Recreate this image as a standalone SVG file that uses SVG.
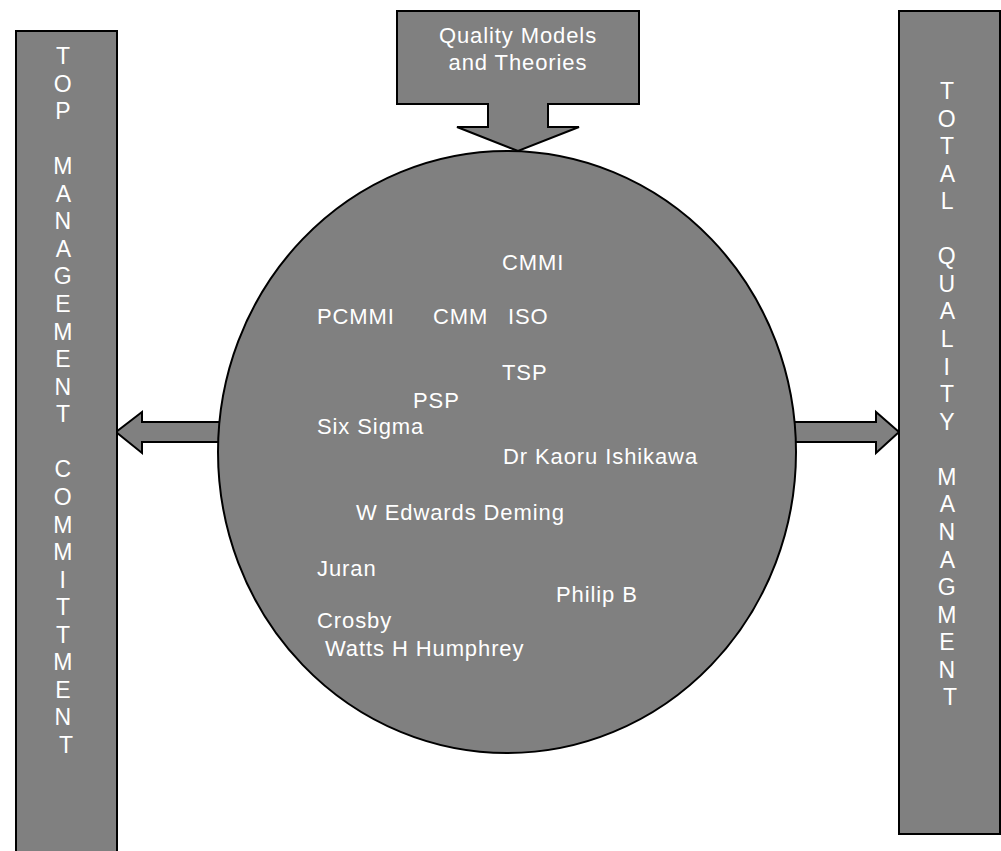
<svg xmlns="http://www.w3.org/2000/svg" width="1001" height="851" viewBox="0 0 1001 851">
<style>
.shape{fill:#808080;stroke:#000;stroke-width:2}
.t{fill:#fff;font-family:"Liberation Sans",Arial,sans-serif;font-size:22px;letter-spacing:0.9px}
.v{fill:#fff;font-family:"Liberation Sans",Arial,sans-serif;font-size:23px;text-anchor:middle}
</style>
<rect width="1001" height="851" fill="#fff"/>
<g id="connectors">
<path class="shape" d="M226,422 H142 V412 L116,432 L142,453 V442 H226 Z"/>
<path class="shape" d="M788,422 H876 V412 L899,432 L876,453 V442 H788 Z"/>
</g>
<g id="left-bar">
<rect class="shape" x="16" y="31" width="101" height="840"/>
<text class="v">
<tspan x="66" y="64">T</tspan>
<tspan x="66" dy="27.56">O</tspan>
<tspan x="66" dy="27.56">P</tspan>
<tspan x="66" dy="55.12">M</tspan>
<tspan x="66" dy="27.56">A</tspan>
<tspan x="66" dy="27.56">N</tspan>
<tspan x="66" dy="27.56">A</tspan>
<tspan x="66" dy="27.56">G</tspan>
<tspan x="66" dy="27.56">E</tspan>
<tspan x="66" dy="27.56">M</tspan>
<tspan x="66" dy="27.56">E</tspan>
<tspan x="66" dy="27.56">N</tspan>
<tspan x="66" dy="27.56">T</tspan>
<tspan x="66" dy="55.12">C</tspan>
<tspan x="66" dy="27.56">O</tspan>
<tspan x="66" dy="27.56">M</tspan>
<tspan x="66" dy="27.56">M</tspan>
<tspan x="66" dy="27.56">I</tspan>
<tspan x="66" dy="27.56">T</tspan>
<tspan x="66" dy="27.56">T</tspan>
<tspan x="66" dy="27.56">M</tspan>
<tspan x="66" dy="27.56">E</tspan>
<tspan x="66" dy="27.56">N</tspan>
<tspan x="66" dy="27.56">T</tspan>
</text>
</g>
<g id="right-bar">
<rect class="shape" x="899" y="11" width="101" height="823"/>
<text class="v">
<tspan x="950" y="99">T</tspan>
<tspan x="950" dy="27.56">O</tspan>
<tspan x="950" dy="27.56">T</tspan>
<tspan x="950" dy="27.56">A</tspan>
<tspan x="950" dy="27.56">L</tspan>
<tspan x="950" dy="55.12">Q</tspan>
<tspan x="950" dy="27.56">U</tspan>
<tspan x="950" dy="27.56">A</tspan>
<tspan x="950" dy="27.56">L</tspan>
<tspan x="950" dy="27.56">I</tspan>
<tspan x="950" dy="27.56">T</tspan>
<tspan x="950" dy="27.56">Y</tspan>
<tspan x="950" dy="55.12">M</tspan>
<tspan x="950" dy="27.56">A</tspan>
<tspan x="950" dy="27.56">N</tspan>
<tspan x="950" dy="27.56">A</tspan>
<tspan x="950" dy="27.56">G</tspan>
<tspan x="950" dy="27.56">M</tspan>
<tspan x="950" dy="27.56">E</tspan>
<tspan x="950" dy="27.56">N</tspan>
<tspan x="950" dy="27.56">T</tspan>
</text>
</g>
<g id="circle">
<ellipse class="shape" cx="507" cy="452" rx="289" ry="301"/>
<text class="t" x="502" y="270">CMMI</text>
<text class="t" x="317" y="324">PCMMI</text>
<text class="t" x="433" y="324">CMM</text>
<text class="t" x="508" y="324">ISO</text>
<text class="t" x="502" y="380">TSP</text>
<text class="t" x="413" y="408">PSP</text>
<text class="t" x="317" y="434">Six Sigma</text>
<text class="t" x="503" y="464">Dr Kaoru Ishikawa</text>
<text class="t" x="356" y="520">W Edwards Deming</text>
<text class="t" x="317" y="576">Juran</text>
<text class="t" x="556" y="602">Philip B</text>
<text class="t" x="317" y="628">Crosby</text>
<text class="t" x="325" y="656">Watts H Humphrey</text>
</g>
<g id="quality-models">
<path class="shape" d="M397,11 H639 V104 H548 V127 H579 L518,151 L457,127 H488 V104 H397 Z"/>
<text class="t" text-anchor="middle"><tspan x="518" y="43">Quality Models</tspan><tspan x="518" y="70">and Theories</tspan></text>
</g>
</svg>
